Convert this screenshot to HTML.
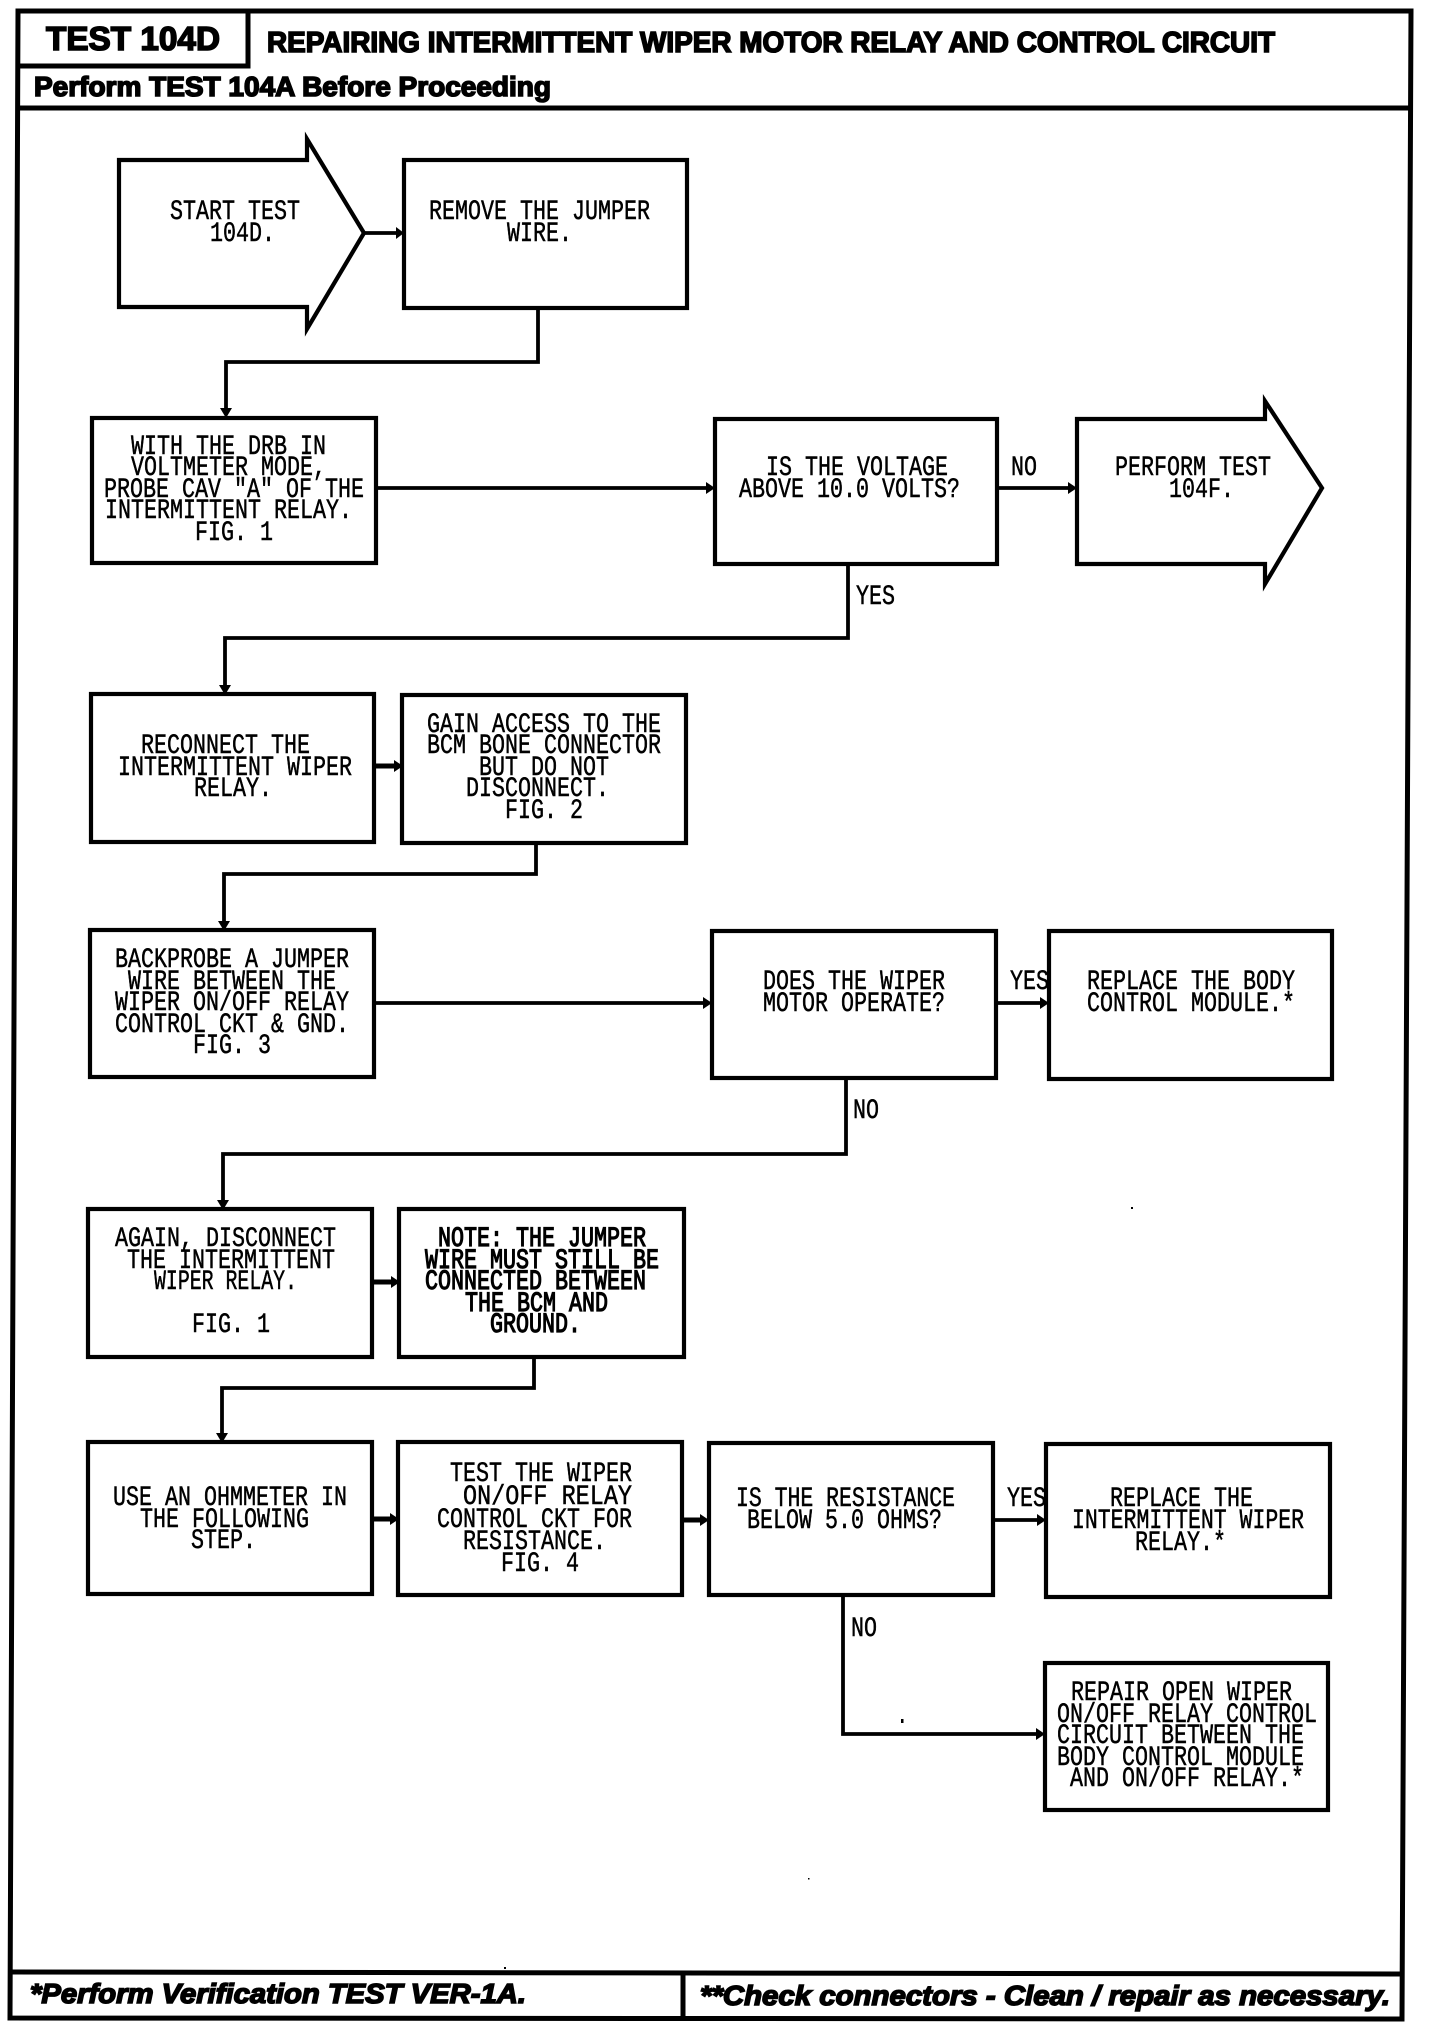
<!DOCTYPE html>
<html><head><meta charset="utf-8"><style>
html,body{margin:0;padding:0;background:#fff}
svg{display:block}
.m{font-family:"Liberation Mono",monospace;font-size:28px;fill:#000;stroke:#000;stroke-width:.5}
.b{stroke-width:1.2}
.h{font-family:"Liberation Sans",sans-serif;font-weight:700;fill:#000;stroke:#000;stroke-width:1.6}
.i{font-style:italic}
.box{fill:none;stroke:#000;stroke-width:4.2;stroke-linejoin:miter}
.ln{fill:none;stroke:#000;stroke-width:3.8;stroke-linejoin:miter}
.th{fill:none;stroke:#000;stroke-width:5}
.f{fill:none;stroke:#000;stroke-width:5}
</style></head><body>
<svg width="1440" height="2032" viewBox="0 0 1440 2032" xmlns="http://www.w3.org/2000/svg">
<rect width="1440" height="2032" fill="#fff"/>
<!-- frame -->
<polygon class="f" points="18,11 1411,11 1402,2019 10,2018"/>
<path class="f" d="M18,108 L1411,108"/>
<path class="f" d="M248,11 L248,66 L18,66"/>
<path class="f" d="M10,1972 L1402,1974"/>
<path class="f" d="M683,1972 L683,2018"/>
<text class="h" x="46" y="50" font-size="33.5" textLength="174" lengthAdjust="spacingAndGlyphs">TEST 104D</text>
<text class="h" x="267" y="52" font-size="29" textLength="1008" lengthAdjust="spacingAndGlyphs">REPAIRING INTERMITTENT WIPER MOTOR RELAY AND CONTROL CIRCUIT</text>
<text class="h" x="34" y="96" font-size="27.5" textLength="517" lengthAdjust="spacingAndGlyphs">Perform TEST 104A Before Proceeding</text>
<text class="h i" x="30" y="2003" font-size="28" textLength="496" lengthAdjust="spacingAndGlyphs">*Perform Verification TEST VER-1A.</text>
<text class="h i" x="700" y="2005" font-size="28" textLength="690" lengthAdjust="spacingAndGlyphs">**Check connectors - Clean / repair as necessary.</text>

<!-- shapes -->
<polygon class="box" points="119,160 307,160 307,139 364,233 307,329 307,307 119,307"/>
<rect class="box" x="404" y="160" width="283" height="148"/>
<rect class="box" x="92" y="418" width="284" height="145"/>
<rect class="box" x="715" y="419" width="282" height="145"/>
<polygon class="box" points="1077,419 1265,419 1265,401 1322,488 1265,584 1265,564 1077,564"/>
<rect class="box" x="91" y="694" width="283" height="148"/>
<rect class="box" x="402" y="695" width="284" height="148"/>
<rect class="box" x="90" y="930" width="284" height="147"/>
<rect class="box" x="712" y="931" width="284" height="147"/>
<rect class="box" x="1049" y="931" width="283" height="148"/>
<rect class="box" x="88" y="1209" width="284" height="148"/>
<rect class="box" x="399" y="1209" width="285" height="148"/>
<rect class="box" x="88" y="1442" width="284" height="152"/>
<rect class="box" x="398" y="1442" width="284" height="153"/>
<rect class="box" x="709" y="1443" width="284" height="152"/>
<rect class="box" x="1046" y="1444" width="284" height="153"/>
<rect class="box" x="1045" y="1663" width="283" height="147"/>

<!-- connectors -->
<path class="ln" d="M364,233 L398,233"/><polygon points="396,227 404,233 396,239"/>
<path class="ln" d="M538,308 L538,362 L226,362 L226,412"/><polygon points="220,408 232,408 226,418"/>
<path class="ln" d="M376,488 L710,488"/><polygon points="706,482 715,488 706,494"/>
<path class="ln" d="M997,488 L1071,488"/><polygon points="1068,482 1077,488 1068,494"/>
<path class="ln" d="M848,564 L848,638 L225,638 L225,689"/><polygon points="219,685 231,685 225,695"/>
<path class="th" d="M374,766 L396,766"/><polygon points="394,760 403,766 394,772"/>
<path class="ln" d="M536,843 L536,874 L224,874 L224,925"/><polygon points="218,921 230,921 224,931"/>
<path class="ln" d="M374,1003 L706,1003"/><polygon points="703,997 712,1003 703,1009"/>
<path class="ln" d="M996,1003 L1043,1003"/><polygon points="1040,997 1049,1003 1040,1009"/>
<path class="ln" d="M846,1078 L846,1154 L223,1154 L223,1204"/><polygon points="217,1200 229,1200 223,1210"/>
<path class="th" d="M372,1282 L393,1282"/><polygon points="391,1276 400,1282 391,1288"/>
<path class="ln" d="M534,1357 L534,1388 L222,1388 L222,1437"/><polygon points="216,1433 228,1433 222,1443"/>
<path class="th" d="M372,1519 L393,1519"/><polygon points="390,1513 399,1519 390,1525"/>
<path class="th" d="M682,1520 L703,1520"/><polygon points="700,1514 709,1520 700,1526"/>
<path class="ln" d="M993,1520 L1040,1520"/><polygon points="1037,1514 1046,1520 1037,1526"/>
<path class="ln" d="M843,1595 L843,1734 L1039,1734"/><polygon points="1036,1728 1045,1734 1036,1740"/>

<rect x="1131" y="1207" width="2" height="2"/>
<rect x="901" y="1719" width="2.5" height="4"/>
<rect x="808" y="1878" width="1.5" height="1.5"/>
<rect x="504" y="1967" width="2" height="2"/>

<!-- text -->
<g class="m">
<text x="170" y="219" textLength="130" lengthAdjust="spacingAndGlyphs">START TEST</text>
<text x="210" y="241" textLength="65" lengthAdjust="spacingAndGlyphs">104D.</text>
<text x="429" y="219" textLength="221" lengthAdjust="spacingAndGlyphs">REMOVE THE JUMPER</text>
<text x="507" y="241" textLength="65" lengthAdjust="spacingAndGlyphs">WIRE.</text>

<text x="131" y="454" textLength="195" lengthAdjust="spacingAndGlyphs">WITH THE DRB IN</text>
<text x="131" y="475" textLength="195" lengthAdjust="spacingAndGlyphs">VOLTMETER MODE,</text>
<text x="104" y="497" textLength="260" lengthAdjust="spacingAndGlyphs">PROBE CAV "A" OF THE</text>
<text x="105" y="518" textLength="247" lengthAdjust="spacingAndGlyphs">INTERMITTENT RELAY.</text>
<text x="195" y="540" textLength="78" lengthAdjust="spacingAndGlyphs">FIG. 1</text>

<text x="766" y="475" textLength="182" lengthAdjust="spacingAndGlyphs">IS THE VOLTAGE</text>
<text x="739" y="497" textLength="221" lengthAdjust="spacingAndGlyphs">ABOVE 10.0 VOLTS?</text>
<text x="1115" y="475" textLength="156" lengthAdjust="spacingAndGlyphs">PERFORM TEST</text>
<text x="1169" y="497" textLength="65" lengthAdjust="spacingAndGlyphs">104F.</text>
<text x="1011" y="475" textLength="26" lengthAdjust="spacingAndGlyphs">NO</text>
<text x="856" y="604" textLength="39" lengthAdjust="spacingAndGlyphs">YES</text>

<text x="141" y="753" textLength="169" lengthAdjust="spacingAndGlyphs">RECONNECT THE</text>
<text x="118" y="775" textLength="234" lengthAdjust="spacingAndGlyphs">INTERMITTENT WIPER</text>
<text x="194" y="796" textLength="78" lengthAdjust="spacingAndGlyphs">RELAY.</text>

<text x="427" y="732" textLength="234" lengthAdjust="spacingAndGlyphs">GAIN ACCESS TO THE</text>
<text x="427" y="753" textLength="234" lengthAdjust="spacingAndGlyphs">BCM BONE CONNECTOR</text>
<text x="479" y="775" textLength="130" lengthAdjust="spacingAndGlyphs">BUT DO NOT</text>
<text x="466" y="796" textLength="143" lengthAdjust="spacingAndGlyphs">DISCONNECT.</text>
<text x="505" y="818" textLength="78" lengthAdjust="spacingAndGlyphs">FIG. 2</text>

<text x="115" y="967" textLength="234" lengthAdjust="spacingAndGlyphs">BACKPROBE A JUMPER</text>
<text x="128" y="989" textLength="208" lengthAdjust="spacingAndGlyphs">WIRE BETWEEN THE</text>
<text x="115" y="1010" textLength="234" lengthAdjust="spacingAndGlyphs">WIPER ON/OFF RELAY</text>
<text x="115" y="1032" textLength="234" lengthAdjust="spacingAndGlyphs">CONTROL CKT &amp; GND.</text>
<text x="193" y="1053" textLength="78" lengthAdjust="spacingAndGlyphs">FIG. 3</text>

<text x="763" y="989" textLength="182" lengthAdjust="spacingAndGlyphs">DOES THE WIPER</text>
<text x="763" y="1011" textLength="182" lengthAdjust="spacingAndGlyphs">MOTOR OPERATE?</text>
<text x="1087" y="989" textLength="208" lengthAdjust="spacingAndGlyphs">REPLACE THE BODY</text>
<text x="1087" y="1011" textLength="208" lengthAdjust="spacingAndGlyphs">CONTROL MODULE.*</text>
<text x="1010" y="989" textLength="39" lengthAdjust="spacingAndGlyphs">YES</text>
<text x="853" y="1118" textLength="26" lengthAdjust="spacingAndGlyphs">NO</text>

<text x="115" y="1246" textLength="221" lengthAdjust="spacingAndGlyphs">AGAIN, DISCONNECT</text>
<text x="127" y="1268" textLength="208" lengthAdjust="spacingAndGlyphs">THE INTERMITTENT</text>
<text x="154" y="1289" textLength="143" lengthAdjust="spacingAndGlyphs">WIPER RELAY.</text>
<text x="192" y="1332" textLength="78" lengthAdjust="spacingAndGlyphs">FIG. 1</text>

<g class="b">
<text x="438" y="1246" textLength="208" lengthAdjust="spacingAndGlyphs">NOTE: THE JUMPER</text>
<text x="425" y="1268" textLength="234" lengthAdjust="spacingAndGlyphs">WIRE MUST STILL BE</text>
<text x="425" y="1289" textLength="221" lengthAdjust="spacingAndGlyphs">CONNECTED BETWEEN</text>
<text x="465" y="1311" textLength="143" lengthAdjust="spacingAndGlyphs">THE BCM AND</text>
<text x="490" y="1332" textLength="91" lengthAdjust="spacingAndGlyphs">GROUND.</text>
</g>

<text x="113" y="1505" textLength="234" lengthAdjust="spacingAndGlyphs">USE AN OHMMETER IN</text>
<text x="140" y="1527" textLength="169" lengthAdjust="spacingAndGlyphs">THE FOLLOWING</text>
<text x="191" y="1548" textLength="65" lengthAdjust="spacingAndGlyphs">STEP.</text>

<text x="450" y="1481" textLength="182" lengthAdjust="spacingAndGlyphs">TEST THE WIPER</text>
<text x="463" y="1504" textLength="169" lengthAdjust="spacingAndGlyphs">ON/OFF RELAY</text>
<text x="437" y="1527" textLength="195" lengthAdjust="spacingAndGlyphs">CONTROL CKT FOR</text>
<text x="463" y="1549" textLength="143" lengthAdjust="spacingAndGlyphs">RESISTANCE.</text>
<text x="501" y="1571" textLength="78" lengthAdjust="spacingAndGlyphs">FIG. 4</text>

<text x="736" y="1506" textLength="219" lengthAdjust="spacingAndGlyphs">IS THE RESISTANCE</text>
<text x="747" y="1528" textLength="195" lengthAdjust="spacingAndGlyphs">BELOW 5.0 OHMS?</text>
<text x="1007" y="1506" textLength="39" lengthAdjust="spacingAndGlyphs">YES</text>
<text x="851" y="1636" textLength="26" lengthAdjust="spacingAndGlyphs">NO</text>

<text x="1110" y="1506" textLength="143" lengthAdjust="spacingAndGlyphs">REPLACE THE</text>
<text x="1072" y="1528" textLength="232" lengthAdjust="spacingAndGlyphs">INTERMITTENT WIPER</text>
<text x="1135" y="1550" textLength="91" lengthAdjust="spacingAndGlyphs">RELAY.*</text>

<text x="1071" y="1700" textLength="221" lengthAdjust="spacingAndGlyphs">REPAIR OPEN WIPER</text>
<text x="1057" y="1722" textLength="260" lengthAdjust="spacingAndGlyphs">ON/OFF RELAY CONTROL</text>
<text x="1057" y="1743" textLength="247" lengthAdjust="spacingAndGlyphs">CIRCUIT BETWEEN THE</text>
<text x="1057" y="1765" textLength="247" lengthAdjust="spacingAndGlyphs">BODY CONTROL MODULE</text>
<text x="1070" y="1786" textLength="234" lengthAdjust="spacingAndGlyphs">AND ON/OFF RELAY.*</text>
</g>
</svg>
</body></html>
